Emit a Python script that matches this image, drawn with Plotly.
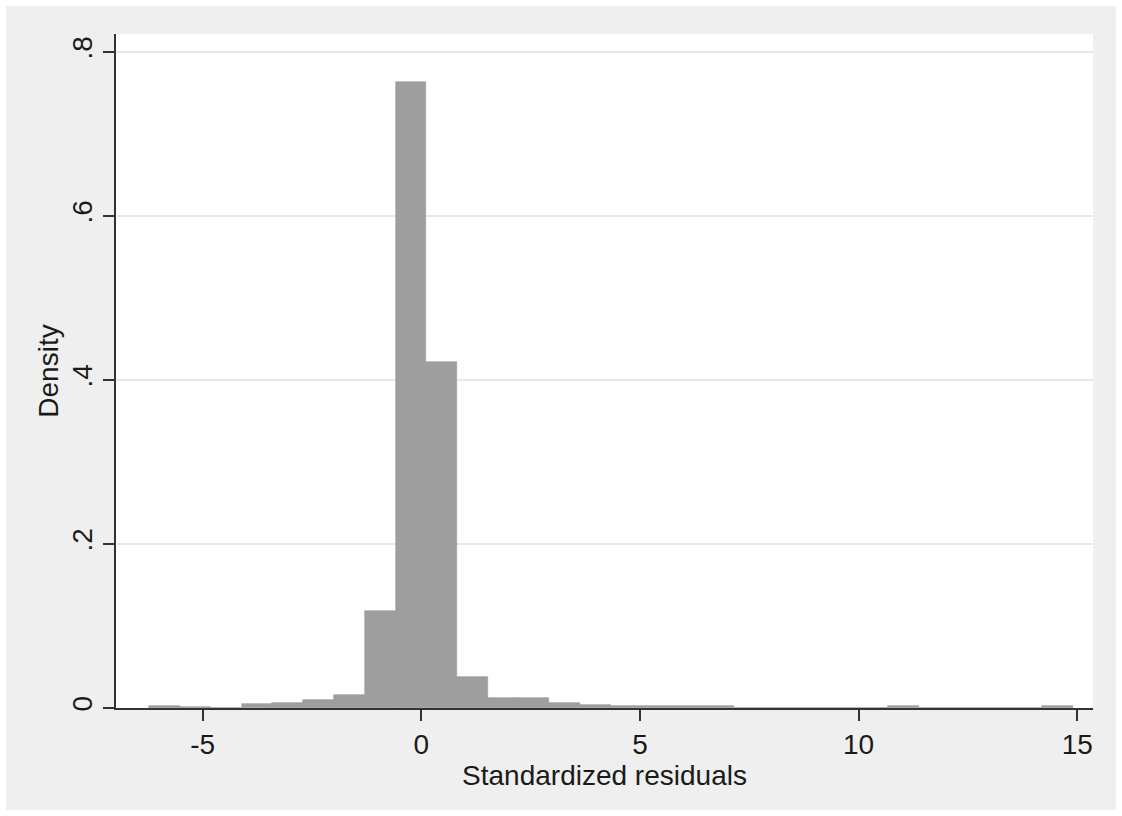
import plotly.graph_objects as go

# Histogram of standardized residuals (Stata-style), 30 bins
bin_start = -6.22
bin_width = 0.704
density = [0.0025, 0.0012, 0.0, 0.0045, 0.0065, 0.0098, 0.0155, 0.1183,
           0.763, 0.4216, 0.0374, 0.0126, 0.0126, 0.0058, 0.0040, 0.0025,
           0.0020, 0.0020, 0.0020, 0.0, 0.0, 0.0, 0.0, 0.0,
           0.0025, 0.0, 0.0, 0.0, 0.0, 0.0025]

x_ticks = [-5, 0, 5, 10, 15]
x_ticklabels = ["-5", "0", "5", "10", "15"]
y_ticks = [0, 0.2, 0.4, 0.6, 0.8]
y_ticklabels = ["0", ".2", ".4", ".6", ".8"]

centers = [bin_start + bin_width * (i + 0.5) for i in range(len(density))]

W, H = 1122, 816
ml, mr, mt, mb = 116, 29, 34, 108
pw, ph = W - ml - mr, H - mt - mb

fig = go.Figure()
fig.add_trace(go.Bar(
    x=centers, y=density, width=[bin_width] * len(density),
    marker=dict(color="#9e9e9e", line=dict(color="#979797", width=0.6)),
    showlegend=False,
))

font = dict(family="Liberation Sans, Arial, sans-serif", size=28, color="#1a1a1a")
axis_common = dict(
    showline=True, linecolor="#333333", linewidth=1.5,
    ticks="outside", ticklen=11, tickwidth=1.5, tickcolor="#333333",
    zeroline=False, tickfont=font,
)

fig.update_layout(
    width=W, height=H,
    margin=dict(l=ml, r=mr, t=mt, b=mb, pad=0),
    paper_bgcolor="white", plot_bgcolor="white",
    font=font,
    bargap=0,
    xaxis=dict(
        range=[-6.98, 15.36], tickvals=x_ticks, ticktext=x_ticklabels,
        showgrid=False,
        title=dict(text="Standardized residuals", font=font, standoff=2),
        **axis_common,
    ),
    yaxis=dict(
        range=[0, 0.822], tickvals=y_ticks, ticktext=y_ticklabels,
        tickangle=-90, showgrid=True, gridcolor="#e8e8e8", gridwidth=2,
        title=dict(text="Density", font=font, standoff=0),
        **axis_common,
    ),
    shapes=[
        dict(type="rect", xref="paper", yref="paper",
             x0=(6 - ml) / pw, x1=(W - 6 - ml) / pw,
             y0=-(H - 6 - mt - ph) / ph, y1=(ph + mt - 6) / ph,
             fillcolor="#efefef", line=dict(width=0), layer="below"),
        dict(type="rect", xref="paper", yref="paper",
             x0=0, x1=1, y0=0, y1=1,
             fillcolor="white", line=dict(width=0), layer="below"),
    ],
)

fig.write_html("out.html")
